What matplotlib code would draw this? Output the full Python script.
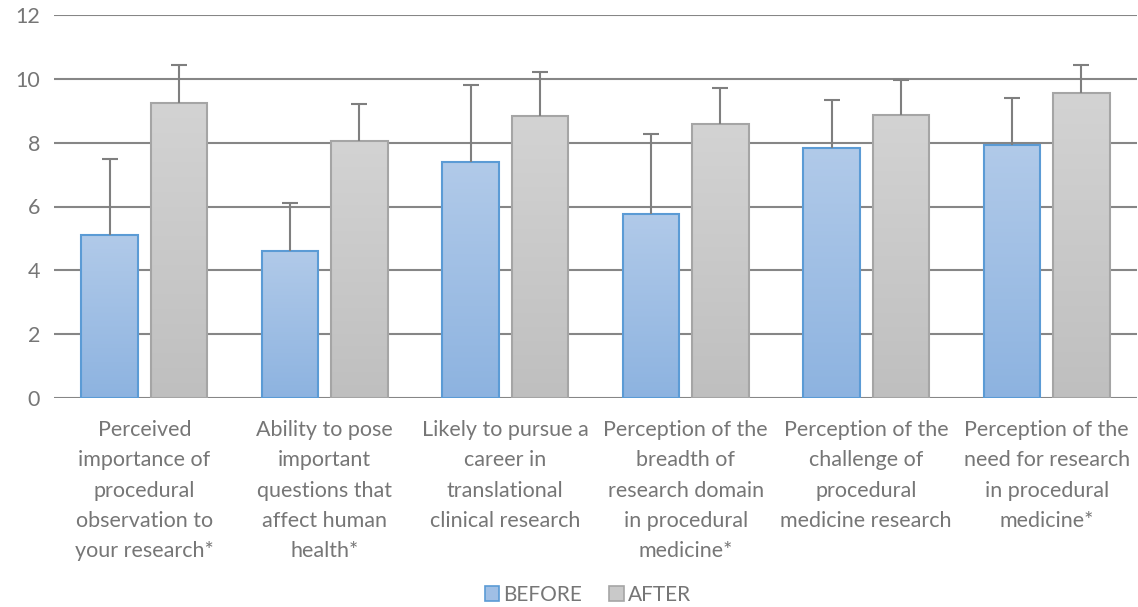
import numpy as np
import matplotlib.pyplot as plt
from matplotlib.patches import Patch

categories = [
    "Perceived\nimportance of\nprocedural\nobservation to\nyour research*",
    "Ability to pose\nimportant\nquestions that\naffect human\nhealth*",
    "Likely to pursue a\ncareer in\ntranslational\nclinical research",
    "Perception of the\nbreadth of\nresearch domain\nin procedural\nmedicine*",
    "Perception of the\nchallenge of\nprocedural\nmedicine research",
    "Perception of the\nneed for research\nin procedural\nmedicine*",
]
before = [5.10, 4.62, 7.38, 5.78, 7.83, 7.93]
before_err = [2.40, 1.50, 2.43, 2.50, 1.50, 1.47]
after = [9.24, 8.05, 8.83, 8.58, 8.88, 9.55]
after_err = [1.20, 1.16, 1.38, 1.13, 1.07, 0.87]

text_col = "#767676"
plt.rcParams["font.family"] = ["Lato", "DejaVu Sans"]

fig = plt.figure(figsize=(11.38, 6.07), dpi=100)
ax = fig.add_axes([54 / 1138, 1 - 398 / 607, 1083 / 1138, 383 / 607])

x = np.arange(len(categories))
w = 0.314
off = 0.192


def gradient_bars(xpos, vals, top_col, bot_col, edge):
    bars = ax.bar(xpos, vals, w, facecolor="none", edgecolor=edge,
                  linewidth=1.5, zorder=4)
    grad = np.linspace(0, 1, 256).reshape(-1, 1)
    c0 = np.array(plt.matplotlib.colors.to_rgb(top_col))
    c1 = np.array(plt.matplotlib.colors.to_rgb(bot_col))
    img = c0[None, None, :] * (1 - grad[:, :, None]) + c1[None, None, :] * grad[:, :, None]
    for b in bars:
        x0, y0 = b.get_x(), b.get_y()
        im = ax.imshow(img, extent=[x0, x0 + b.get_width(), y0, y0 + b.get_height()],
                       aspect="auto", origin="upper", zorder=3)
        im.set_clip_path(b)
    return bars


def upper_errors(xpos, vals, errs):
    tops = np.array(vals) + np.array(errs)
    ax.vlines(xpos, vals, tops, color="#7f7f7f", linewidth=1.5, zorder=5)
    ax.plot(xpos, tops, ls="none", marker="_", markersize=11,
            markeredgewidth=1.5, color="#7f7f7f", zorder=5)


gradient_bars(x - off, before, "#b1cae9", "#8db3e0", "#5b9bd5")
gradient_bars(x + off, after, "#d3d3d3", "#bfbfbf", "#a5a5a5")
upper_errors(x - off, before, before_err)
upper_errors(x + off, after, after_err)

ax.set_xlim(-0.5, len(categories) - 0.5)
ax.set_ylim(0, 12)
ax.set_yticks(range(0, 13, 2))
ax.yaxis.grid(True, color="#868686", linewidth=1.5, zorder=0)
ax.set_axisbelow(True)
for s in ax.spines.values():
    s.set_visible(False)
ax.tick_params(axis="both", length=0, colors=text_col, labelsize=15.5)
ax.tick_params(axis="y", pad=10)
ax.set_xticks(x)
ax.set_xticklabels(categories, linespacing=1.64)
ax.tick_params(axis="x", pad=16)

handles = [Patch(facecolor="#a0bfe5", edgecolor="#5b9bd5", linewidth=1.2),
           Patch(facecolor="#c9c9c9", edgecolor="#a5a5a5", linewidth=1.2)]
fig.legend(handles, ["BEFORE", "AFTER"], loc="center", bbox_to_anchor=(588 / 1138, 1 - 595 / 607),
           ncol=2, frameon=False, fontsize=15, labelcolor=text_col,
           handlelength=0.7, handleheight=0.7, handletextpad=0.2, columnspacing=1.3)

fig.savefig("out.png", dpi=100)
